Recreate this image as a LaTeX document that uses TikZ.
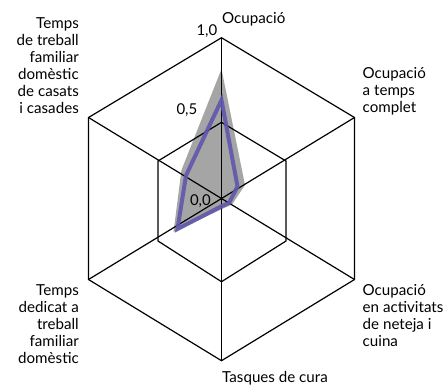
\documentclass[tikz,border=0pt]{standalone}
\usepackage{fontspec}
\setmainfont{Lato}
\begin{document}
\begin{tikzpicture}[x=1bp,y=-1bp,
  grid/.style={line width=1.2bp,black,line join=miter},
  lbl/.style={font=\fontsize{15.2}{17.15}\selectfont,inner sep=0pt,text depth=0pt},
  tick/.style={font=\fontsize{15}{16}\selectfont,inner sep=0pt}]
\definecolor{band}{RGB}{165,165,165}
\definecolor{line}{RGB}{96,86,172}
\useasboundingbox (0,0) rectangle (446,386);
% outer hexagon
\coordinate (C) at (221.5,199.3);
\coordinate (OT) at (221.5,37.7);
\coordinate (OUR) at (354.5,117.5);
\coordinate (OLR) at (354.5,279.5);
\coordinate (OB) at (221.5,360.7);
\coordinate (OLL) at (88.5,279.5);
\coordinate (OUL) at (88.5,117.5);
% inner hexagon
\coordinate (IT) at (221.5,122.3);
\coordinate (IUR) at (286,161);
\coordinate (ILR) at (286,241);
\coordinate (IB) at (221.5,281.7);
\coordinate (ILL) at (158,241);
\coordinate (IUL) at (158,161);
% data band
\coordinate (GT) at (221.5,69);
\coordinate (GUR) at (245,185);
\coordinate (GLR) at (232,204.5);
\coordinate (GB) at (222,209);
\coordinate (GLL) at (173.5,232);
\coordinate (GUL) at (181.5,170);
\fill[band] (GT) -- (GUR) -- (GLR) -- (GB) -- (GLL) -- (GUL) -- cycle;
% data line
\coordinate (PT) at (221.5,100);
\coordinate (PUR) at (237.5,186.5);
\coordinate (PLR) at (229,203);
\coordinate (PB) at (222,206);
\coordinate (PLL) at (177.5,229);
\coordinate (PUL) at (186,175.5);
\draw[grid] (OT) -- (OUR) -- (OLR) -- (OB) -- (OLL) -- (OUL) -- cycle;
\draw[grid] (IT) -- (IUR) -- (ILR) -- (IB) -- (ILL) -- (IUL) -- cycle;
\draw[grid] (OT) -- (OB);
\draw[grid] (OUL) -- (OLR);
\draw[grid] (OUR) -- (OLL);
\draw[line,line width=4bp,line join=miter,opacity=0.9] (PT) -- (PUR) -- (PLR) -- (PB) -- (PLL) -- (PUL) -- cycle;
% labels
\node[lbl,anchor=base west] (lt) at (222,23.3) {Ocupació};
\node[lbl,anchor=north west,align=left] (lur) at (362.5,67.3) {Ocupació\\a temps\\complet};
\node[lbl,anchor=north west,align=left] (llr) at (362.5,284) {Ocupació\\en activitats\\de neteja i\\cuina};
\node[lbl,anchor=base west] (lb) at (222,382.7) {Tasques de cura};
\node[lbl,anchor=north east,align=right] (lll) at (79,284.3) {Temps\\dedicat a\\treball\\familiar\\domèstic};
\node[lbl,anchor=north east,align=right] (lul) at (79,17.4) {Temps\\de treball\\familiar\\domèstic\\de casats\\i casades};
\node[tick,anchor=base east] (t10) at (217.5,35) {1,0};
\node[tick,anchor=base east] (t05) at (197.5,114) {0,5};
\node[tick,anchor=base east] (t00) at (211,205.5) {0,0};
\end{tikzpicture}
\end{document}
